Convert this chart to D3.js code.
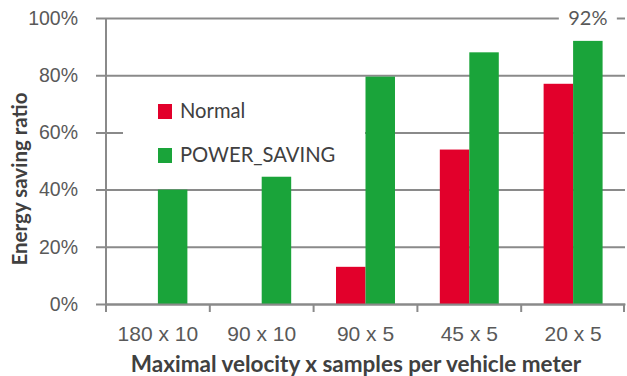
<!DOCTYPE html>
<html>
<head>
<meta charset="utf-8">
<style>
  body { margin: 0; background: #fff; }
  svg { display: block; font-family: Lato, "Open Sans", sans-serif; }
</style>
</head>
<body>
<div id="container"></div>
<script src="https://cdn.jsdelivr.net/npm/d3@7"></script>
<script>
// chart values
const categories = ["180 x 10", "90 x 10", "90 x 5", "45 x 5", "20 x 5"];
const seriesNames = ["Normal", "POWER_SAVING"];
const normal = [0, 0, 13, 54, 77];
const powerSaving = [40, 44.5, 79.5, 88, 92];
const yTicks = [0, 20, 40, 60, 80, 100];
const seriesColors = ["#e2002b", "#1aa43a"];

const width = 627, height = 376;
const margin = {top: 18, right: 2, bottom: 72, left: 106};

const svg = d3.select("#container")
    .append("svg")
    .attr("width", width)
    .attr("height", height);

const x = d3.scaleBand()
    .domain(categories)
    .range([margin.left, width - margin.right])
    .padding(0);

const xInner = d3.scaleBand()
    .domain(seriesNames)
    .range([0, x.bandwidth()])
    .paddingInner(0)
    .paddingOuter(0.76);

const y = d3.scaleLinear()
    .domain([0, 100])
    .range([height - margin.bottom, margin.top]);

const gridColor = "#8a8a8a";

// gridlines + y ticks
const yAxis = d3.axisLeft(y)
    .tickValues(yTicks)
    .tickFormat(d => d + "%")
    .tickSize(-(width - margin.right - margin.left))
    .tickSizeOuter(0)
    .tickPadding(28);

const gy = svg.append("g")
    .attr("transform", `translate(${margin.left},0)`)
    .call(yAxis);
gy.select(".domain").remove();
gy.selectAll(".tick line")
    .attr("x1", -10)
    .attr("stroke", gridColor)
    .attr("stroke-width", 2);
gy.selectAll(".tick text")
    .attr("fill", "#595959")
    .attr("font-size", "19.5px");

// legend box (white, covers the gridline behind it)
const legend = svg.append("g");
legend.append("rect")
    .attr("x", 123)
    .attr("y", 92)
    .attr("width", 242)
    .attr("height", 84)
    .attr("fill", "#fff");

// bars
const rows = categories.map((c, i) => ({cat: c, values: [normal[i], powerSaving[i]]}));

svg.append("g")
    .selectAll("g")
    .data(rows)
    .join("g")
    .attr("transform", d => `translate(${x(d.cat)},0)`)
    .selectAll("rect")
    .data(d => d.values.map((v, j) => ({name: seriesNames[j], value: v, j: j})))
    .join("rect")
    .attr("x", d => xInner(d.name))
    .attr("y", d => y(d.value))
    .attr("width", xInner.bandwidth())
    .attr("height", d => y(0) - y(d.value))
    .attr("fill", d => seriesColors[d.j]);

// left axis line
svg.append("line")
    .attr("x1", margin.left).attr("x2", margin.left)
    .attr("y1", y(100)).attr("y2", y(0) + 8)
    .attr("stroke", gridColor)
    .attr("stroke-width", 2);

// x axis
const xAxis = d3.axisBottom(x).tickSize(0).tickPadding(22);
const gx = svg.append("g")
    .attr("transform", `translate(0,${y(0)})`)
    .call(xAxis);
gx.select(".domain")
    .attr("stroke", gridColor)
    .attr("stroke-width", 2);
gx.selectAll(".tick text")
    .attr("fill", "#595959")
    .attr("font-size", "21px");

// category boundary ticks
svg.append("g")
    .selectAll("line")
    .data(categories.concat([null]))
    .join("line")
    .attr("x1", (d, i) => i < categories.length ? x(d) : x(categories[categories.length - 1]) + x.bandwidth() - 1)
    .attr("x2", (d, i) => i < categories.length ? x(d) : x(categories[categories.length - 1]) + x.bandwidth() - 1)
    .attr("y1", y(0))
    .attr("y2", y(0) + 8)
    .attr("stroke", gridColor)
    .attr("stroke-width", 2);

// legend entries
seriesNames.forEach((name, i) => {
    legend.append("rect")
        .attr("x", 158)
        .attr("y", 104 + i * 44)
        .attr("width", 14)
        .attr("height", 15)
        .attr("fill", seriesColors[i]);
    legend.append("text")
        .attr("x", 180)
        .attr("y", 118 + i * 44)
        .attr("fill", "#404040")
        .attr("font-size", "20.2px")
        .text(name);
});

// max value label on the top line
const maxVal = d3.max(powerSaving);
const maxIdx = powerSaving.indexOf(maxVal);
const labelX = x(categories[maxIdx]) + xInner(seriesNames[1]) + xInner.bandwidth() / 2;
svg.append("rect")
    .attr("x", labelX - 29)
    .attr("y", y(100) - 8)
    .attr("width", 58)
    .attr("height", 16)
    .attr("fill", "#fff");
svg.append("text")
    .attr("x", labelX)
    .attr("y", y(100) + 7)
    .attr("text-anchor", "middle")
    .attr("fill", "#595959")
    .attr("font-size", "20px")
    .text(maxVal + "%");

// axis titles
svg.append("text")
    .attr("x", 356)
    .attr("y", 372)
    .attr("text-anchor", "middle")
    .attr("fill", "#404040")
    .attr("font-size", "22.5px")
    .attr("font-weight", "bold")
    .text("Maximal velocity x samples per vehicle meter");

svg.append("text")
    .attr("transform", "translate(27,179) rotate(-90)")
    .attr("text-anchor", "middle")
    .attr("fill", "#404040")
    .attr("font-size", "20.5px")
    .attr("font-weight", "bold")
    .text("Energy saving ratio");
</script>
</body>
</html>
